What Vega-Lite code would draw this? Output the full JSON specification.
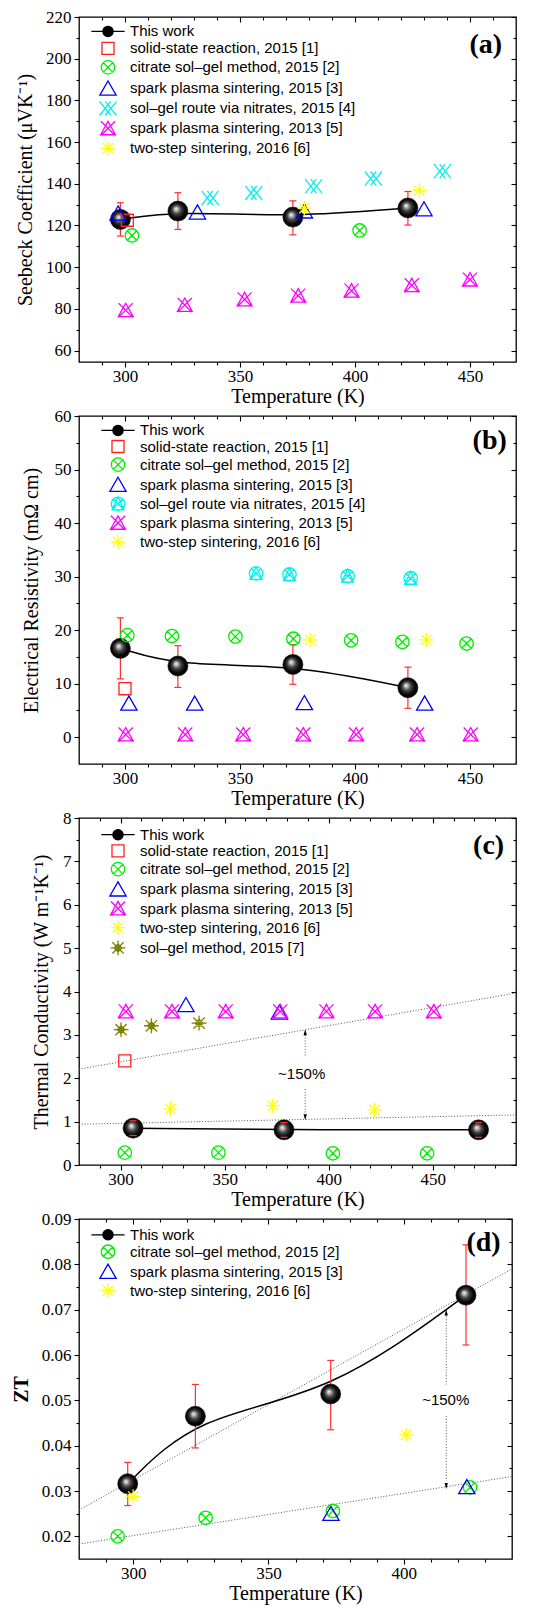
{
"$schema":"https://vega.github.io/schema/vega-lite/v6.json",
"background":"white",
"padding":{"left":10,"top":7,"right":5,"bottom":5},
"datasets":{
"a_work":[{"T":298,"v":122.9,"lo":114.9,"hi":130.9},{"T":323,"v":126.9,"lo":118.1,"hi":135.7},{"T":373,"v":124.0,"lo":115.5,"hi":131.8},{"T":423,"v":128.4,"lo":120.2,"hi":136.3}],
"a_pts":[
{"s":"solid-state reaction, 2015 [1]","T":301,"v":122.5},
{"s":"citrate sol–gel method, 2015 [2]","T":303,"v":115.2},{"s":"citrate sol–gel method, 2015 [2]","T":402,"v":117.6},
{"s":"spark plasma sintering, 2015 [3]","T":297,"v":125.8},{"s":"spark plasma sintering, 2015 [3]","T":331.5,"v":126.3},{"s":"spark plasma sintering, 2015 [3]","T":378,"v":126.8},{"s":"spark plasma sintering, 2015 [3]","T":430,"v":127.8},
{"s":"sol–gel route via nitrates, 2015 [4]","T":337,"v":133.2},{"s":"sol–gel route via nitrates, 2015 [4]","T":356,"v":135.6},{"s":"sol–gel route via nitrates, 2015 [4]","T":382,"v":138.8},{"s":"sol–gel route via nitrates, 2015 [4]","T":408,"v":142.5},{"s":"sol–gel route via nitrates, 2015 [4]","T":438,"v":146},
{"s":"spark plasma sintering, 2013 [5]","T":300.3,"v":79.3},{"s":"spark plasma sintering, 2013 [5]","T":326,"v":81.8},{"s":"spark plasma sintering, 2013 [5]","T":352,"v":84.5},{"s":"spark plasma sintering, 2013 [5]","T":375.3,"v":86.3},{"s":"spark plasma sintering, 2013 [5]","T":398.5,"v":88.7},{"s":"spark plasma sintering, 2013 [5]","T":424.7,"v":91.3},{"s":"spark plasma sintering, 2013 [5]","T":450,"v":94},
{"s":"two-step sintering, 2016 [6]","T":378,"v":128.3},{"s":"two-step sintering, 2016 [6]","T":428,"v":136.8}],
"a_lab":[{"T":464,"v":206.6,"t":"(a)"}],
"b_work":[{"T":298,"v":16.6,"lo":10.9,"hi":22.3},{"T":323,"v":13.3,"lo":9.3,"hi":17.1},{"T":373,"v":13.6,"lo":9.9,"hi":17.3},{"T":423,"v":9.25,"lo":5.4,"hi":13.1}],
"b_pts":[
{"s":"solid-state reaction, 2015 [1]","T":300,"v":9.06},
{"s":"citrate sol–gel method, 2015 [2]","T":301,"v":19.06},{"s":"citrate sol–gel method, 2015 [2]","T":320.4,"v":18.9},{"s":"citrate sol–gel method, 2015 [2]","T":348,"v":18.8},{"s":"citrate sol–gel method, 2015 [2]","T":373.2,"v":18.4},{"s":"citrate sol–gel method, 2015 [2]","T":398.3,"v":18.1},{"s":"citrate sol–gel method, 2015 [2]","T":420.6,"v":17.8},{"s":"citrate sol–gel method, 2015 [2]","T":448.5,"v":17.5},
{"s":"spark plasma sintering, 2015 [3]","T":301.7,"v":6.3},{"s":"spark plasma sintering, 2015 [3]","T":330.3,"v":6.3},{"s":"spark plasma sintering, 2015 [3]","T":378,"v":6.4},{"s":"spark plasma sintering, 2015 [3]","T":430.3,"v":6.3},
{"s":"sol–gel route via nitrates, 2015 [4]","T":357,"v":30.6},{"s":"sol–gel route via nitrates, 2015 [4]","T":371.5,"v":30.4},{"s":"sol–gel route via nitrates, 2015 [4]","T":396.8,"v":30.1},{"s":"sol–gel route via nitrates, 2015 [4]","T":424.2,"v":29.7},
{"s":"spark plasma sintering, 2013 [5]","T":300.3,"v":0.5},{"s":"spark plasma sintering, 2013 [5]","T":326.2,"v":0.5},{"s":"spark plasma sintering, 2013 [5]","T":351.4,"v":0.5},{"s":"spark plasma sintering, 2013 [5]","T":377.5,"v":0.5},{"s":"spark plasma sintering, 2013 [5]","T":400.5,"v":0.5},{"s":"spark plasma sintering, 2013 [5]","T":427,"v":0.5},{"s":"spark plasma sintering, 2013 [5]","T":450.3,"v":0.5},
{"s":"two-step sintering, 2016 [6]","T":380.5,"v":18.2},{"s":"two-step sintering, 2016 [6]","T":431,"v":18.2}],
"b_lab":[{"T":466,"v":55.3,"t":"(b)"}],
"c_work":[{"T":306,"v":0.85,"lo":0.68,"hi":1.02},{"T":378.5,"v":0.81,"lo":0.64,"hi":0.98},{"T":472,"v":0.81,"lo":0.64,"hi":0.98}],
"c_pts":[
{"s":"solid-state reaction, 2015 [1]","T":302,"v":2.4},
{"s":"citrate sol–gel method, 2015 [2]","T":302,"v":0.285},{"s":"citrate sol–gel method, 2015 [2]","T":347,"v":0.285},{"s":"citrate sol–gel method, 2015 [2]","T":402,"v":0.27},{"s":"citrate sol–gel method, 2015 [2]","T":447.3,"v":0.27},
{"s":"spark plasma sintering, 2015 [3]","T":331.4,"v":3.69},{"s":"spark plasma sintering, 2015 [3]","T":376.3,"v":3.52},
{"s":"spark plasma sintering, 2013 [5]","T":302.5,"v":3.54},{"s":"spark plasma sintering, 2013 [5]","T":324.7,"v":3.54},{"s":"spark plasma sintering, 2013 [5]","T":350.5,"v":3.54},{"s":"spark plasma sintering, 2013 [5]","T":376.7,"v":3.54},{"s":"spark plasma sintering, 2013 [5]","T":398.9,"v":3.54},{"s":"spark plasma sintering, 2013 [5]","T":422.3,"v":3.54},{"s":"spark plasma sintering, 2013 [5]","T":450.5,"v":3.54},
{"s":"two-step sintering, 2016 [6]","T":323.9,"v":1.29},{"s":"two-step sintering, 2016 [6]","T":373.1,"v":1.37},{"s":"two-step sintering, 2016 [6]","T":422,"v":1.27},
{"s":"sol–gel method, 2015 [7]","T":300.2,"v":3.12},{"s":"sol–gel method, 2015 [7]","T":314.8,"v":3.21},{"s":"sol–gel method, 2015 [7]","T":337.7,"v":3.27}],
"c_guides":[{"T":280,"v":2.21,"T2":490,"v2":3.965},{"T":280,"v":0.94,"T2":490,"v2":1.155},{"T":388.7,"v":3.0,"T2":388.7,"v2":2.48},{"T":388.7,"v":1.75,"T2":388.7,"v2":1.12}],
"c_up":[{"T":388.7,"v":3.06}],
"c_down":[{"T":388.7,"v":1.1}],
"c_text":[{"T":387,"v":2.09,"t":"~150%"}],
"c_lab":[{"T":484.3,"v":7.36,"t":"(c)"}],
"d_work":[{"T":298,"v":0.0316,"lo":0.0268,"hi":0.0363},{"T":323,"v":0.0465,"lo":0.0395,"hi":0.0535},{"T":373,"v":0.0514,"lo":0.0435,"hi":0.0588},{"T":423,"v":0.0732,"lo":0.0622,"hi":0.0843}],
"d_pts":[
{"s":"citrate sol–gel method, 2015 [2]","T":294.3,"v":0.0200},{"s":"citrate sol–gel method, 2015 [2]","T":326.8,"v":0.0241},{"s":"citrate sol–gel method, 2015 [2]","T":373.8,"v":0.0256},{"s":"citrate sol–gel method, 2015 [2]","T":424.5,"v":0.0308},
{"s":"spark plasma sintering, 2015 [3]","T":373.1,"v":0.0250},{"s":"spark plasma sintering, 2015 [3]","T":423.3,"v":0.0309},
{"s":"two-step sintering, 2016 [6]","T":300,"v":0.0288},{"s":"two-step sintering, 2016 [6]","T":400.9,"v":0.0424}],
"d_guides":[{"T":280,"v":0.0258,"T2":440,"v2":0.079},{"T":280,"v":0.0183,"T2":440,"v2":0.0332},{"T":415.7,"v":0.0685,"T2":415.7,"v2":0.0535},{"T":415.7,"v":0.0465,"T2":415.7,"v2":0.0322}],
"d_up":[{"T":415.7,"v":0.0694}],
"d_down":[{"T":415.7,"v":0.0311}],
"d_text":[{"T":415.5,"v":0.0501,"t":"~150%"}],
"d_lab":[{"T":435.8,"v":0.0846,"t":"(d)"}]
},
"vconcat":[
{
"width":437,"height":345,
"layer":[
{"data":{"name":"a_work"},"mark":{"type":"line","interpolate":"basis","color":"black","strokeWidth":1.5},
"encoding":{"x":{"field":"T","type":"quantitative","scale":{"domain":[280,470],"nice":false,"zero":false},"axis":{"orient":"bottom","values":[300,350,400,450],"tickSize":5,"labelPadding":1,"title":"Temperature (K)","titlePadding":2}},
"y":{"field":"v","type":"quantitative","scale":{"domain":[54.5,220],"nice":false,"zero":false},"axis":{"orient":"left","values":[60,80,100,120,140,160,180,200,220],"tickSize":5,"format":"d","title":"Seebeck Coefficient (μVK⁻¹)","titlePadding":10}}}},
{"data":{"name":"a_work"},"mark":{"type":"rule","color":"#ff3030","strokeWidth":1.2},
"encoding":{"x":{"field":"T","type":"quantitative","scale":{"domain":[280,470],"nice":false,"zero":false},"axis":{"orient":"bottom","values":[290,310,320,330,340,360,370,380,390,410,420,430,440,460],"tickSize":3,"labels":false,"title":null}},
"y":{"field":"lo","type":"quantitative","scale":{"domain":[54.5,220],"nice":false,"zero":false},"axis":{"orient":"left","values":[70,90,110,130,150,170,190,210],"tickSize":3,"labels":false,"title":null}},"y2":{"field":"hi"}}},
{"data":{"name":"a_work"},"mark":{"type":"point","shape":"M-1,0H1","size":49,"filled":false,"color":"#ff3030","strokeWidth":1.2,"opacity":1},
"encoding":{"x":{"field":"T","type":"quantitative","scale":{"domain":[280,470],"nice":false,"zero":false},"axis":{"orient":"top","values":[300,350,400,450],"tickSize":-5,"labels":false,"title":null}},
"y":{"field":"lo","type":"quantitative","scale":{"domain":[54.5,220],"nice":false,"zero":false},"axis":{"orient":"right","values":[60,80,100,120,140,160,180,200,220],"tickSize":-5,"labels":false,"title":null}}}},
{"data":{"name":"a_work"},"mark":{"type":"point","shape":"M-1,0H1","size":49,"filled":false,"color":"#ff3030","strokeWidth":1.2,"opacity":1},
"encoding":{"x":{"field":"T","type":"quantitative","scale":{"domain":[280,470],"nice":false,"zero":false},"axis":{"orient":"top","values":[290,310,320,330,340,360,370,380,390,410,420,430,440,460],"tickSize":-3,"labels":false,"title":null}},
"y":{"field":"hi","type":"quantitative","scale":{"domain":[54.5,220],"nice":false,"zero":false},"axis":{"orient":"right","values":[70,90,110,130,150,170,190,210],"tickSize":-3,"labels":false,"title":null}}}},
{"data":{"name":"a_work"},"mark":{"type":"point","shape":"circle","size":400,"filled":true,"opacity":1,"stroke":"black","strokeWidth":0.6,"fill":{"gradient":"radial","x1":0.4,"y1":0.38,"r1":0,"x2":0.5,"y2":0.5,"r2":0.55,"stops":[{"offset":0,"color":"#ffffff"},{"offset":0.15,"color":"#bbbbbb"},{"offset":0.4,"color":"#444444"},{"offset":0.7,"color":"#080808"},{"offset":1,"color":"#000000"}]}},
"encoding":{"x":{"field":"T","type":"quantitative","scale":{"domain":[280,470],"nice":false,"zero":false},"axis":null},"y":{"field":"v","type":"quantitative","scale":{"domain":[54.5,220],"nice":false,"zero":false},"axis":null}}},
{"data":{"name":"a_pts"},"mark":{"type":"point","size":200,"strokeWidth":1.3,"opacity":1},
"encoding":{"x":{"field":"T","type":"quantitative","scale":{"domain":[280,470],"nice":false,"zero":false},"axis":null},"y":{"field":"v","type":"quantitative","scale":{"domain":[54.5,220],"nice":false,"zero":false},"axis":null},
"shape":{"field":"s","type":"nominal","scale":{"domain":["This work","solid-state reaction, 2015 [1]","citrate sol–gel method, 2015 [2]","spark plasma sintering, 2015 [3]","sol–gel route via nitrates, 2015 [4]","spark plasma sintering, 2013 [5]","two-step sintering, 2016 [6]"],"range":["M-2.35,0H2.35M0.72,0A0.72,0.72 0 1 1 -0.72,0A0.72,0.72 0 1 1 0.72,0Z","M-0.85,-0.85H0.85V0.85H-0.85Z","M0.95,0A0.95,0.95 0 1 1 -0.95,0A0.95,0.95 0 1 1 0.95,0ZM-0.67,-0.67L0.67,0.67M-0.67,0.67L0.67,-0.67","M0,-1.05L1.15,0.95H-1.15Z","M-1.2,-1L0.4,1M-1.2,1L0.4,-1M-0.4,-1L1.2,1M-0.4,1L1.2,-1","M-1,-1L1,1M-1,1L1,-1M0,-1L1.05,0.9H-1.05Z","M0,-1V1M-1,0H1M-0.72,-0.72L0.72,0.72M-0.72,0.72L0.72,-0.72"]},"legend":{"title":null,"orient":"none","legendX":21,"legendY":6.4,"rowPadding":0}},
"stroke":{"field":"s","type":"nominal","scale":{"domain":["This work","solid-state reaction, 2015 [1]","citrate sol–gel method, 2015 [2]","spark plasma sintering, 2015 [3]","sol–gel route via nitrates, 2015 [4]","spark plasma sintering, 2013 [5]","two-step sintering, 2016 [6]"],"range":["#000000","#ff2020","#00ee00","#0000ff","#00f0f0","#ff00ff","#ffff00"]},"legend":{"title":null,"orient":"none","legendX":21,"legendY":6.4,"rowPadding":0}},
"fill":{"field":"s","type":"nominal","scale":{"domain":["This work","solid-state reaction, 2015 [1]","citrate sol–gel method, 2015 [2]","spark plasma sintering, 2015 [3]","sol–gel route via nitrates, 2015 [4]","spark plasma sintering, 2013 [5]","two-step sintering, 2016 [6]"],"range":["#000000","transparent","transparent","transparent","transparent","transparent","transparent"]},"legend":{"title":null,"orient":"none","legendX":21,"legendY":6.4,"rowPadding":0}}}},
{"data":{"name":"a_lab"},"mark":{"type":"text","font":"Liberation Serif","fontSize":28,"fontWeight":"bold","color":"black","align":"right","baseline":"middle"},
"encoding":{"x":{"field":"T","type":"quantitative","scale":{"domain":[280,470],"nice":false,"zero":false},"axis":null},"y":{"field":"v","type":"quantitative","scale":{"domain":[54.5,220],"nice":false,"zero":false},"axis":null},"text":{"field":"t"}}}
],
"resolve":{"axis":{"x":"independent","y":"independent"}}
},
{
"width":437,"height":348,
"layer":[
{"data":{"name":"b_work"},"mark":{"type":"line","interpolate":"basis","color":"black","strokeWidth":1.5},
"encoding":{"x":{"field":"T","type":"quantitative","scale":{"domain":[280,470],"nice":false,"zero":false},"axis":{"orient":"bottom","values":[300,350,400,450],"tickSize":5,"labelPadding":1,"title":"Temperature (K)","titlePadding":2}},
"y":{"field":"v","type":"quantitative","scale":{"domain":[-5,60],"nice":false,"zero":false},"axis":{"orient":"left","values":[0,10,20,30,40,50,60],"tickSize":5,"format":"d","title":"Electrical Resistivity (mΩ cm)","titlePadding":13}}}},
{"data":{"name":"b_work"},"mark":{"type":"rule","color":"#ff3030","strokeWidth":1.2},
"encoding":{"x":{"field":"T","type":"quantitative","scale":{"domain":[280,470],"nice":false,"zero":false},"axis":{"orient":"bottom","values":[290,310,320,330,340,360,370,380,390,410,420,430,440,460],"tickSize":3,"labels":false,"title":null}},
"y":{"field":"lo","type":"quantitative","scale":{"domain":[-5,60],"nice":false,"zero":false},"axis":{"orient":"left","values":[5,15,25,35,45,55],"tickSize":3,"labels":false,"title":null}},"y2":{"field":"hi"}}},
{"data":{"name":"b_work"},"mark":{"type":"point","shape":"M-1,0H1","size":49,"filled":false,"color":"#ff3030","strokeWidth":1.2,"opacity":1},
"encoding":{"x":{"field":"T","type":"quantitative","scale":{"domain":[280,470],"nice":false,"zero":false},"axis":{"orient":"top","values":[300,350,400,450],"tickSize":-5,"labels":false,"title":null}},
"y":{"field":"lo","type":"quantitative","scale":{"domain":[-5,60],"nice":false,"zero":false},"axis":{"orient":"right","values":[0,10,20,30,40,50,60],"tickSize":-5,"labels":false,"title":null}}}},
{"data":{"name":"b_work"},"mark":{"type":"point","shape":"M-1,0H1","size":49,"filled":false,"color":"#ff3030","strokeWidth":1.2,"opacity":1},
"encoding":{"x":{"field":"T","type":"quantitative","scale":{"domain":[280,470],"nice":false,"zero":false},"axis":{"orient":"top","values":[290,310,320,330,340,360,370,380,390,410,420,430,440,460],"tickSize":-3,"labels":false,"title":null}},
"y":{"field":"hi","type":"quantitative","scale":{"domain":[-5,60],"nice":false,"zero":false},"axis":{"orient":"right","values":[5,15,25,35,45,55],"tickSize":-3,"labels":false,"title":null}}}},
{"data":{"name":"b_work"},"mark":{"type":"point","shape":"circle","size":400,"filled":true,"opacity":1,"stroke":"black","strokeWidth":0.6,"fill":{"gradient":"radial","x1":0.4,"y1":0.38,"r1":0,"x2":0.5,"y2":0.5,"r2":0.55,"stops":[{"offset":0,"color":"#ffffff"},{"offset":0.15,"color":"#bbbbbb"},{"offset":0.4,"color":"#444444"},{"offset":0.7,"color":"#080808"},{"offset":1,"color":"#000000"}]}},
"encoding":{"x":{"field":"T","type":"quantitative","scale":{"domain":[280,470],"nice":false,"zero":false},"axis":null},"y":{"field":"v","type":"quantitative","scale":{"domain":[-5,60],"nice":false,"zero":false},"axis":null}}},
{"data":{"name":"b_pts"},"mark":{"type":"point","size":200,"strokeWidth":1.3,"opacity":1},
"encoding":{"x":{"field":"T","type":"quantitative","scale":{"domain":[280,470],"nice":false,"zero":false},"axis":null},"y":{"field":"v","type":"quantitative","scale":{"domain":[-5,60],"nice":false,"zero":false},"axis":null},
"shape":{"field":"s","type":"nominal","scale":{"domain":["This work","solid-state reaction, 2015 [1]","citrate sol–gel method, 2015 [2]","spark plasma sintering, 2015 [3]","sol–gel route via nitrates, 2015 [4]","spark plasma sintering, 2013 [5]","two-step sintering, 2016 [6]"],"range":["M-2.35,0H2.35M0.72,0A0.72,0.72 0 1 1 -0.72,0A0.72,0.72 0 1 1 0.72,0Z","M-0.85,-0.85H0.85V0.85H-0.85Z","M0.95,0A0.95,0.95 0 1 1 -0.95,0A0.95,0.95 0 1 1 0.95,0ZM-0.67,-0.67L0.67,0.67M-0.67,0.67L0.67,-0.67","M0,-1.05L1.15,0.95H-1.15Z","M0.95,0A0.95,0.95 0 1 1 -0.95,0A0.95,0.95 0 1 1 0.95,0ZM-0.67,-0.67L0.67,0.67M-0.67,0.67L0.67,-0.67M0,-0.95L0.85,0.85H-0.85Z","M-1,-1L1,1M-1,1L1,-1M0,-1L1.05,0.9H-1.05Z","M0,-1V1M-1,0H1M-0.72,-0.72L0.72,0.72M-0.72,0.72L0.72,-0.72"]},"legend":{"title":null,"orient":"none","legendX":31,"legendY":6.4,"rowPadding":-0.9}},
"stroke":{"field":"s","type":"nominal","scale":{"domain":["This work","solid-state reaction, 2015 [1]","citrate sol–gel method, 2015 [2]","spark plasma sintering, 2015 [3]","sol–gel route via nitrates, 2015 [4]","spark plasma sintering, 2013 [5]","two-step sintering, 2016 [6]"],"range":["#000000","#ff2020","#00ee00","#0000ff","#00f0f0","#ff00ff","#ffff00"]},"legend":{"title":null,"orient":"none","legendX":31,"legendY":6.4,"rowPadding":-0.9}},
"fill":{"field":"s","type":"nominal","scale":{"domain":["This work","solid-state reaction, 2015 [1]","citrate sol–gel method, 2015 [2]","spark plasma sintering, 2015 [3]","sol–gel route via nitrates, 2015 [4]","spark plasma sintering, 2013 [5]","two-step sintering, 2016 [6]"],"range":["#000000","transparent","transparent","transparent","transparent","transparent","transparent"]},"legend":{"title":null,"orient":"none","legendX":31,"legendY":6.4,"rowPadding":-0.9}}}},
{"data":{"name":"b_lab"},"mark":{"type":"text","font":"Liberation Serif","fontSize":28,"fontWeight":"bold","color":"black","align":"right","baseline":"middle"},
"encoding":{"x":{"field":"T","type":"quantitative","scale":{"domain":[280,470],"nice":false,"zero":false},"axis":null},"y":{"field":"v","type":"quantitative","scale":{"domain":[-5,60],"nice":false,"zero":false},"axis":null},"text":{"field":"t"}}}
],
"resolve":{"axis":{"x":"independent","y":"independent"}}
},
{
"width":437,"height":347,
"layer":[
{"data":{"name":"c_guides"},"mark":{"type":"rule","color":"#555555","strokeWidth":1,"strokeDash":[1,1.8]},
"encoding":{"x":{"field":"T","type":"quantitative","scale":{"domain":[280,490],"nice":false,"zero":false},"axis":{"orient":"bottom","values":[300,350,400,450],"tickSize":5,"labelPadding":1,"title":"Temperature (K)","titlePadding":2}},
"y":{"field":"v","type":"quantitative","scale":{"domain":[0,8],"nice":false,"zero":false},"axis":{"orient":"left","values":[0,1,2,3,4,5,6,7,8],"tickSize":5,"format":"d","title":"Thermal Conductivity (W m⁻¹K⁻¹)","titlePadding":11}},
"x2":{"field":"T2"},"y2":{"field":"v2"}}},
{"data":{"name":"c_up"},"mark":{"type":"point","shape":"M0,-1L0.55,1H-0.55Z","size":36,"filled":true,"color":"black","opacity":1},
"encoding":{"x":{"field":"T","type":"quantitative","scale":{"domain":[280,490],"nice":false,"zero":false},"axis":{"orient":"bottom","values":[290,310,320,330,340,360,370,380,390,410,420,430,440,460,470,480],"tickSize":3,"labels":false,"title":null}},
"y":{"field":"v","type":"quantitative","scale":{"domain":[0,8],"nice":false,"zero":false},"axis":{"orient":"left","values":[0.5,1.5,2.5,3.5,4.5,5.5,6.5,7.5],"tickSize":3,"labels":false,"title":null}}}},
{"data":{"name":"c_down"},"mark":{"type":"point","shape":"M0,1L0.55,-1H-0.55Z","size":36,"filled":true,"color":"black","opacity":1},
"encoding":{"x":{"field":"T","type":"quantitative","scale":{"domain":[280,490],"nice":false,"zero":false},"axis":{"orient":"top","values":[300,350,400,450],"tickSize":-5,"labels":false,"title":null}},
"y":{"field":"v","type":"quantitative","scale":{"domain":[0,8],"nice":false,"zero":false},"axis":{"orient":"right","values":[0,1,2,3,4,5,6,7,8],"tickSize":-5,"labels":false,"title":null}}}},
{"data":{"name":"c_work"},"mark":{"type":"line","interpolate":"basis","color":"black","strokeWidth":1.5},
"encoding":{"x":{"field":"T","type":"quantitative","scale":{"domain":[280,490],"nice":false,"zero":false},"axis":{"orient":"top","values":[290,310,320,330,340,360,370,380,390,410,420,430,440,460,470,480],"tickSize":-3,"labels":false,"title":null}},
"y":{"field":"v","type":"quantitative","scale":{"domain":[0,8],"nice":false,"zero":false},"axis":{"orient":"right","values":[0.5,1.5,2.5,3.5,4.5,5.5,6.5,7.5],"tickSize":-3,"labels":false,"title":null}}}},
{"data":{"name":"c_work"},"mark":{"type":"rule","color":"#ff3030","strokeWidth":1.2},
"encoding":{"x":{"field":"T","type":"quantitative","scale":{"domain":[280,490],"nice":false,"zero":false},"axis":null},"y":{"field":"lo","type":"quantitative","scale":{"domain":[0,8],"nice":false,"zero":false},"axis":null},"y2":{"field":"hi"}}},
{"data":{"name":"c_work"},"mark":{"type":"point","shape":"circle","size":400,"filled":true,"opacity":1,"stroke":"black","strokeWidth":0.6,"fill":{"gradient":"radial","x1":0.4,"y1":0.38,"r1":0,"x2":0.5,"y2":0.5,"r2":0.55,"stops":[{"offset":0,"color":"#ffffff"},{"offset":0.15,"color":"#bbbbbb"},{"offset":0.4,"color":"#444444"},{"offset":0.7,"color":"#080808"},{"offset":1,"color":"#000000"}]}},
"encoding":{"x":{"field":"T","type":"quantitative","scale":{"domain":[280,490],"nice":false,"zero":false},"axis":null},"y":{"field":"v","type":"quantitative","scale":{"domain":[0,8],"nice":false,"zero":false},"axis":null}}},
{"data":{"name":"c_work"},"mark":{"type":"point","shape":"M-1,0H1","size":49,"filled":false,"color":"#ff3030","strokeWidth":1.2,"opacity":1},
"encoding":{"x":{"field":"T","type":"quantitative","scale":{"domain":[280,490],"nice":false,"zero":false},"axis":null},"y":{"field":"lo","type":"quantitative","scale":{"domain":[0,8],"nice":false,"zero":false},"axis":null}}},
{"data":{"name":"c_work"},"mark":{"type":"point","shape":"M-1,0H1","size":49,"filled":false,"color":"#ff3030","strokeWidth":1.2,"opacity":1},
"encoding":{"x":{"field":"T","type":"quantitative","scale":{"domain":[280,490],"nice":false,"zero":false},"axis":null},"y":{"field":"hi","type":"quantitative","scale":{"domain":[0,8],"nice":false,"zero":false},"axis":null}}},
{"data":{"name":"c_pts"},"mark":{"type":"point","size":200,"strokeWidth":1.3,"opacity":1},
"encoding":{"x":{"field":"T","type":"quantitative","scale":{"domain":[280,490],"nice":false,"zero":false},"axis":null},"y":{"field":"v","type":"quantitative","scale":{"domain":[0,8],"nice":false,"zero":false},"axis":null},
"shape":{"field":"s","type":"nominal","scale":{"domain":["This work","solid-state reaction, 2015 [1]","citrate sol–gel method, 2015 [2]","spark plasma sintering, 2015 [3]","spark plasma sintering, 2013 [5]","two-step sintering, 2016 [6]","sol–gel method, 2015 [7]"],"range":["M-2.35,0H2.35M0.72,0A0.72,0.72 0 1 1 -0.72,0A0.72,0.72 0 1 1 0.72,0Z","M-0.85,-0.85H0.85V0.85H-0.85Z","M0.95,0A0.95,0.95 0 1 1 -0.95,0A0.95,0.95 0 1 1 0.95,0ZM-0.67,-0.67L0.67,0.67M-0.67,0.67L0.67,-0.67","M0,-1.05L1.15,0.95H-1.15Z","M-1,-1L1,1M-1,1L1,-1M0,-1L1.05,0.9H-1.05Z","M0,-1V1M-1,0H1M-0.72,-0.72L0.72,0.72M-0.72,0.72L0.72,-0.72","M0,-1.05V1.05M-1.05,0H1.05M-0.8,-0.8L0.8,0.8M-0.8,0.8L0.8,-0.8M0,-0.55L0.55,0L0,0.55L-0.55,0Z"]},"legend":{"title":null,"orient":"none","legendX":31,"legendY":8.7,"rowPadding":-0.8}},
"stroke":{"field":"s","type":"nominal","scale":{"domain":["This work","solid-state reaction, 2015 [1]","citrate sol–gel method, 2015 [2]","spark plasma sintering, 2015 [3]","spark plasma sintering, 2013 [5]","two-step sintering, 2016 [6]","sol–gel method, 2015 [7]"],"range":["#000000","#ff2020","#00ee00","#0000ff","#ff00ff","#ffff00","#808000"]},"legend":{"title":null,"orient":"none","legendX":31,"legendY":8.7,"rowPadding":-0.8}},
"fill":{"field":"s","type":"nominal","scale":{"domain":["This work","solid-state reaction, 2015 [1]","citrate sol–gel method, 2015 [2]","spark plasma sintering, 2015 [3]","spark plasma sintering, 2013 [5]","two-step sintering, 2016 [6]","sol–gel method, 2015 [7]"],"range":["#000000","transparent","transparent","transparent","transparent","transparent","transparent"]},"legend":{"title":null,"orient":"none","legendX":31,"legendY":8.7,"rowPadding":-0.8}}}},
{"data":{"name":"c_text"},"mark":{"type":"text","font":"Liberation Sans","fontSize":15,"color":"black","align":"center","baseline":"middle"},
"encoding":{"x":{"field":"T","type":"quantitative","scale":{"domain":[280,490],"nice":false,"zero":false},"axis":null},"y":{"field":"v","type":"quantitative","scale":{"domain":[0,8],"nice":false,"zero":false},"axis":null},"text":{"field":"t"}}},
{"data":{"name":"c_lab"},"mark":{"type":"text","font":"Liberation Serif","fontSize":28,"fontWeight":"bold","color":"black","align":"right","baseline":"middle"},
"encoding":{"x":{"field":"T","type":"quantitative","scale":{"domain":[280,490],"nice":false,"zero":false},"axis":null},"y":{"field":"v","type":"quantitative","scale":{"domain":[0,8],"nice":false,"zero":false},"axis":null},"text":{"field":"t"}}}
],
"resolve":{"axis":{"x":"independent","y":"independent"}}
},
{
"width":433,"height":340,
"layer":[
{"data":{"name":"d_guides"},"mark":{"type":"rule","color":"#555555","strokeWidth":1,"strokeDash":[1,1.8]},
"encoding":{"x":{"field":"T","type":"quantitative","scale":{"domain":[280,440],"nice":false,"zero":false},"axis":{"orient":"bottom","values":[300,350,400],"tickSize":5,"labelPadding":1,"title":"Temperature (K)","titlePadding":2}},
"y":{"field":"v","type":"quantitative","scale":{"domain":[0.015,0.09],"nice":false,"zero":false},"axis":{"orient":"left","values":[0.02,0.03,0.04,0.05,0.06,0.07,0.08,0.09],"tickSize":5,"format":".2f","title":"ZT","titleFontWeight":"bold","titlePadding":10}},
"x2":{"field":"T2"},"y2":{"field":"v2"}}},
{"data":{"name":"d_up"},"mark":{"type":"point","shape":"M0,-1L0.55,1H-0.55Z","size":36,"filled":true,"color":"black","opacity":1},
"encoding":{"x":{"field":"T","type":"quantitative","scale":{"domain":[280,440],"nice":false,"zero":false},"axis":{"orient":"bottom","values":[290,310,320,330,340,360,370,380,390,410,420,430],"tickSize":3,"labels":false,"title":null}},
"y":{"field":"v","type":"quantitative","scale":{"domain":[0.015,0.09],"nice":false,"zero":false},"axis":{"orient":"left","values":[0.025,0.035,0.045,0.055,0.065,0.075,0.085],"tickSize":3,"labels":false,"title":null}}}},
{"data":{"name":"d_down"},"mark":{"type":"point","shape":"M0,1L0.55,-1H-0.55Z","size":36,"filled":true,"color":"black","opacity":1},
"encoding":{"x":{"field":"T","type":"quantitative","scale":{"domain":[280,440],"nice":false,"zero":false},"axis":{"orient":"top","values":[300,350,400],"tickSize":-5,"labels":false,"title":null}},
"y":{"field":"v","type":"quantitative","scale":{"domain":[0.015,0.09],"nice":false,"zero":false},"axis":{"orient":"right","values":[0.02,0.03,0.04,0.05,0.06,0.07,0.08,0.09],"tickSize":-5,"labels":false,"title":null}}}},
{"data":{"name":"d_work"},"mark":{"type":"line","interpolate":"basis","color":"black","strokeWidth":1.5},
"encoding":{"x":{"field":"T","type":"quantitative","scale":{"domain":[280,440],"nice":false,"zero":false},"axis":{"orient":"top","values":[290,310,320,330,340,360,370,380,390,410,420,430],"tickSize":-3,"labels":false,"title":null}},
"y":{"field":"v","type":"quantitative","scale":{"domain":[0.015,0.09],"nice":false,"zero":false},"axis":{"orient":"right","values":[0.025,0.035,0.045,0.055,0.065,0.075,0.085],"tickSize":-3,"labels":false,"title":null}}}},
{"data":{"name":"d_work"},"mark":{"type":"rule","color":"#ff3030","strokeWidth":1.2},
"encoding":{"x":{"field":"T","type":"quantitative","scale":{"domain":[280,440],"nice":false,"zero":false},"axis":null},"y":{"field":"lo","type":"quantitative","scale":{"domain":[0.015,0.09],"nice":false,"zero":false},"axis":null},"y2":{"field":"hi"}}},
{"data":{"name":"d_work"},"mark":{"type":"point","shape":"M-1,0H1","size":49,"filled":false,"color":"#ff3030","strokeWidth":1.2,"opacity":1},
"encoding":{"x":{"field":"T","type":"quantitative","scale":{"domain":[280,440],"nice":false,"zero":false},"axis":null},"y":{"field":"lo","type":"quantitative","scale":{"domain":[0.015,0.09],"nice":false,"zero":false},"axis":null}}},
{"data":{"name":"d_work"},"mark":{"type":"point","shape":"M-1,0H1","size":49,"filled":false,"color":"#ff3030","strokeWidth":1.2,"opacity":1},
"encoding":{"x":{"field":"T","type":"quantitative","scale":{"domain":[280,440],"nice":false,"zero":false},"axis":null},"y":{"field":"hi","type":"quantitative","scale":{"domain":[0.015,0.09],"nice":false,"zero":false},"axis":null}}},
{"data":{"name":"d_work"},"mark":{"type":"point","shape":"circle","size":400,"filled":true,"opacity":1,"stroke":"black","strokeWidth":0.6,"fill":{"gradient":"radial","x1":0.4,"y1":0.38,"r1":0,"x2":0.5,"y2":0.5,"r2":0.55,"stops":[{"offset":0,"color":"#ffffff"},{"offset":0.15,"color":"#bbbbbb"},{"offset":0.4,"color":"#444444"},{"offset":0.7,"color":"#080808"},{"offset":1,"color":"#000000"}]}},
"encoding":{"x":{"field":"T","type":"quantitative","scale":{"domain":[280,440],"nice":false,"zero":false},"axis":null},"y":{"field":"v","type":"quantitative","scale":{"domain":[0.015,0.09],"nice":false,"zero":false},"axis":null}}},
{"data":{"name":"d_pts"},"mark":{"type":"point","size":200,"strokeWidth":1.3,"opacity":1},
"encoding":{"x":{"field":"T","type":"quantitative","scale":{"domain":[280,440],"nice":false,"zero":false},"axis":null},"y":{"field":"v","type":"quantitative","scale":{"domain":[0.015,0.09],"nice":false,"zero":false},"axis":null},
"shape":{"field":"s","type":"nominal","scale":{"domain":["This work","citrate sol–gel method, 2015 [2]","spark plasma sintering, 2015 [3]","two-step sintering, 2016 [6]"],"range":["M-2.35,0H2.35M0.72,0A0.72,0.72 0 1 1 -0.72,0A0.72,0.72 0 1 1 0.72,0Z","M0.95,0A0.95,0.95 0 1 1 -0.95,0A0.95,0.95 0 1 1 0.95,0ZM-0.67,-0.67L0.67,0.67M-0.67,0.67L0.67,-0.67","M0,-1.05L1.15,0.95H-1.15Z","M0,-1V1M-1,0H1M-0.72,-0.72L0.72,0.72M-0.72,0.72L0.72,-0.72"]},"legend":{"title":null,"orient":"none","legendX":21,"legendY":7.8,"rowPadding":-1.1}},
"stroke":{"field":"s","type":"nominal","scale":{"domain":["This work","citrate sol–gel method, 2015 [2]","spark plasma sintering, 2015 [3]","two-step sintering, 2016 [6]"],"range":["#000000","#00ee00","#0000ff","#ffff00"]},"legend":{"title":null,"orient":"none","legendX":21,"legendY":7.8,"rowPadding":-1.1}},
"fill":{"field":"s","type":"nominal","scale":{"domain":["This work","citrate sol–gel method, 2015 [2]","spark plasma sintering, 2015 [3]","two-step sintering, 2016 [6]"],"range":["#000000","transparent","transparent","transparent"]},"legend":{"title":null,"orient":"none","legendX":21,"legendY":7.8,"rowPadding":-1.1}}}},
{"data":{"name":"d_text"},"mark":{"type":"text","font":"Liberation Sans","fontSize":15,"color":"black","align":"center","baseline":"middle"},
"encoding":{"x":{"field":"T","type":"quantitative","scale":{"domain":[280,440],"nice":false,"zero":false},"axis":null},"y":{"field":"v","type":"quantitative","scale":{"domain":[0.015,0.09],"nice":false,"zero":false},"axis":null},"text":{"field":"t"}}},
{"data":{"name":"d_lab"},"mark":{"type":"text","font":"Liberation Serif","fontSize":28,"fontWeight":"bold","color":"black","align":"right","baseline":"middle"},
"encoding":{"x":{"field":"T","type":"quantitative","scale":{"domain":[280,440],"nice":false,"zero":false},"axis":null},"y":{"field":"v","type":"quantitative","scale":{"domain":[0.015,0.09],"nice":false,"zero":false},"axis":null},"text":{"field":"t"}}}
],
"resolve":{"axis":{"x":"independent","y":"independent"}}
}
],
"spacing":54,
"bounds":"flush",
"resolve":{"scale":{"x":"independent","y":"independent","shape":"independent","stroke":"independent","fill":"independent"},"axis":{"x":"independent","y":"independent"},"legend":{"shape":"independent","stroke":"independent","fill":"independent"}},
"config":{
"view":{"stroke":"black","strokeWidth":1.3},
"axis":{"labelFont":"Liberation Serif","labelFontSize":17,"labelColor":"black","titleFont":"Liberation Serif","titleFontSize":20,"titleFontWeight":"normal","titleColor":"black","tickColor":"black","tickWidth":1.1,"domain":false,"grid":false,"labelPadding":3,"labelFlush":false,"labelOverlap":false,"labelBound":false},
"legend":{"labelFont":"Liberation Sans","labelFontSize":15,"labelColor":"black","symbolStrokeWidth":1.3,"padding":0,"labelOffset":14,"labelLimit":400,"symbolSize":200,"symbolOpacity":1}
}
}
